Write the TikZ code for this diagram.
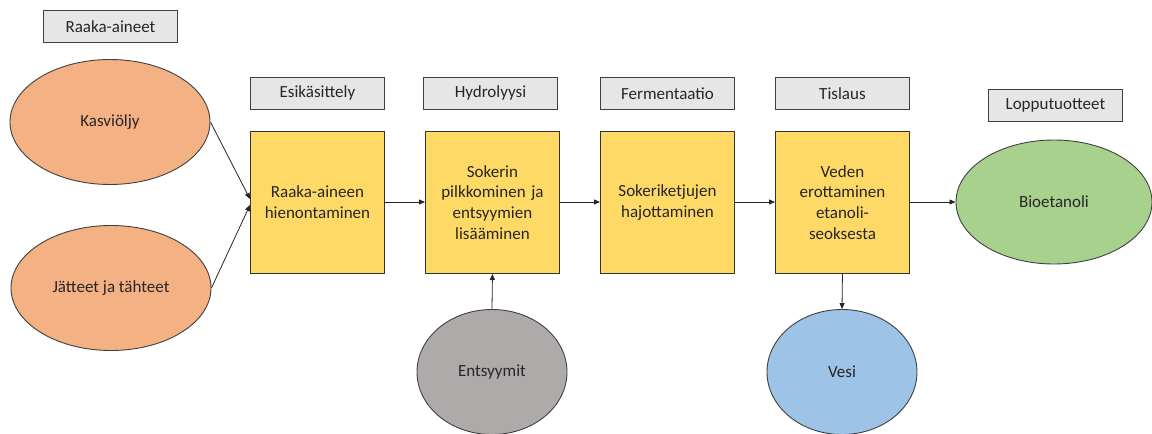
\documentclass[tikz,border=0pt]{standalone}
\usepackage{fontspec}
\setmainfont{Carlito}
\usetikzlibrary{shapes.geometric,arrows.meta}
\definecolor{lbl}{HTML}{E7E6E6}
\definecolor{yel}{HTML}{FFD966}
\definecolor{ora}{HTML}{F4B183}
\definecolor{gry}{HTML}{AEAAAA}
\definecolor{blu}{HTML}{9DC3E6}
\definecolor{grn}{HTML}{A9D18E}
\definecolor{edge}{HTML}{404040}
\tikzset{
  every node/.style={font=\fontsize{17}{20.7}\selectfont, text=black!85},
  lbl/.style={draw=edge, fill=lbl, line width=0.9pt, minimum width=134pt, minimum height=32pt, inner sep=0pt, anchor=north west},
  proc/.style={draw=black!80, fill=yel, line width=0.9pt, minimum width=134pt, minimum height=142pt, inner sep=0pt, anchor=north west, align=center, text width=130pt},
  oval/.style={ellipse, draw=edge, line width=0.9pt, inner sep=0pt, align=center},
  arr/.style={draw=black!85, line width=0.8pt, -{Triangle[length=6pt,width=5pt]}}
}
\begin{document}
\begin{tikzpicture}[x=1pt,y=-1pt]
\useasboundingbox (0,0) rectangle (1152,434);
% labels
\node[lbl] (l0) at (43,10) {Raaka-aineet};
\node[lbl] (l1) at (250,77) {Esikäsittely};
\node[lbl] (l2) at (423,77) {Hydrolyysi};
\node[lbl] (l3) at (600,77) {Fermentaatio};
\node[lbl] (l4) at (775,77) {Tislaus};
\node[lbl] (l5) at (988,89) {Lopputuotteet};
% process boxes
\node[proc] (b1) at (250,131) {Raaka-aineen\\hienontaminen};
\node[proc] (b2) at (425,131) {Sokerin\\pilkkominen ja\\entsyymien\\lisääminen};
\node[proc] (b3) at (600,131) {Sokeriketjujen\\hajottaminen};
\node[proc] (b4) at (775,131) {Veden\\erottaminen\\etanoli-\\seoksesta};
% ellipses
\node[oval, fill=ora, minimum width=200pt, minimum height=125pt] (k) at (110,122) {Kasviöljy};
\node[oval, fill=ora, minimum width=200pt, minimum height=125pt] (j) at (111,288) {Jätteet ja tähteet};
\node[oval, fill=gry, minimum width=150pt, minimum height=125pt] (e) at (492,372) {Entsyymit};
\node[oval, fill=blu, minimum width=150pt, minimum height=125pt] (v) at (842,372) {Vesi};
\node[oval, fill=grn, minimum width=196pt, minimum height=124pt] (bio) at (1054,202) {Bioetanoli};
% connectors
\coordinate (b1in1) at (250,199);
\coordinate (b1in2) at (250,205);
\draw[arr] (k.east) -- (b1in1);
\draw[arr] (j.east) -- (b1in2);
\draw[arr] (b1.east |- 0,202) -- (b2.west |- 0,202);
\draw[arr] (b2.east |- 0,202) -- (b3.west |- 0,202);
\draw[arr] (b3.east |- 0,202) -- (b4.west |- 0,202);
\draw[arr] (b4.east |- 0,202) -- (bio.west);
\draw[arr] (e.north) -- (b2.south);
\draw[arr] (b4.south) -- (v.north);
\end{tikzpicture}
\end{document}
